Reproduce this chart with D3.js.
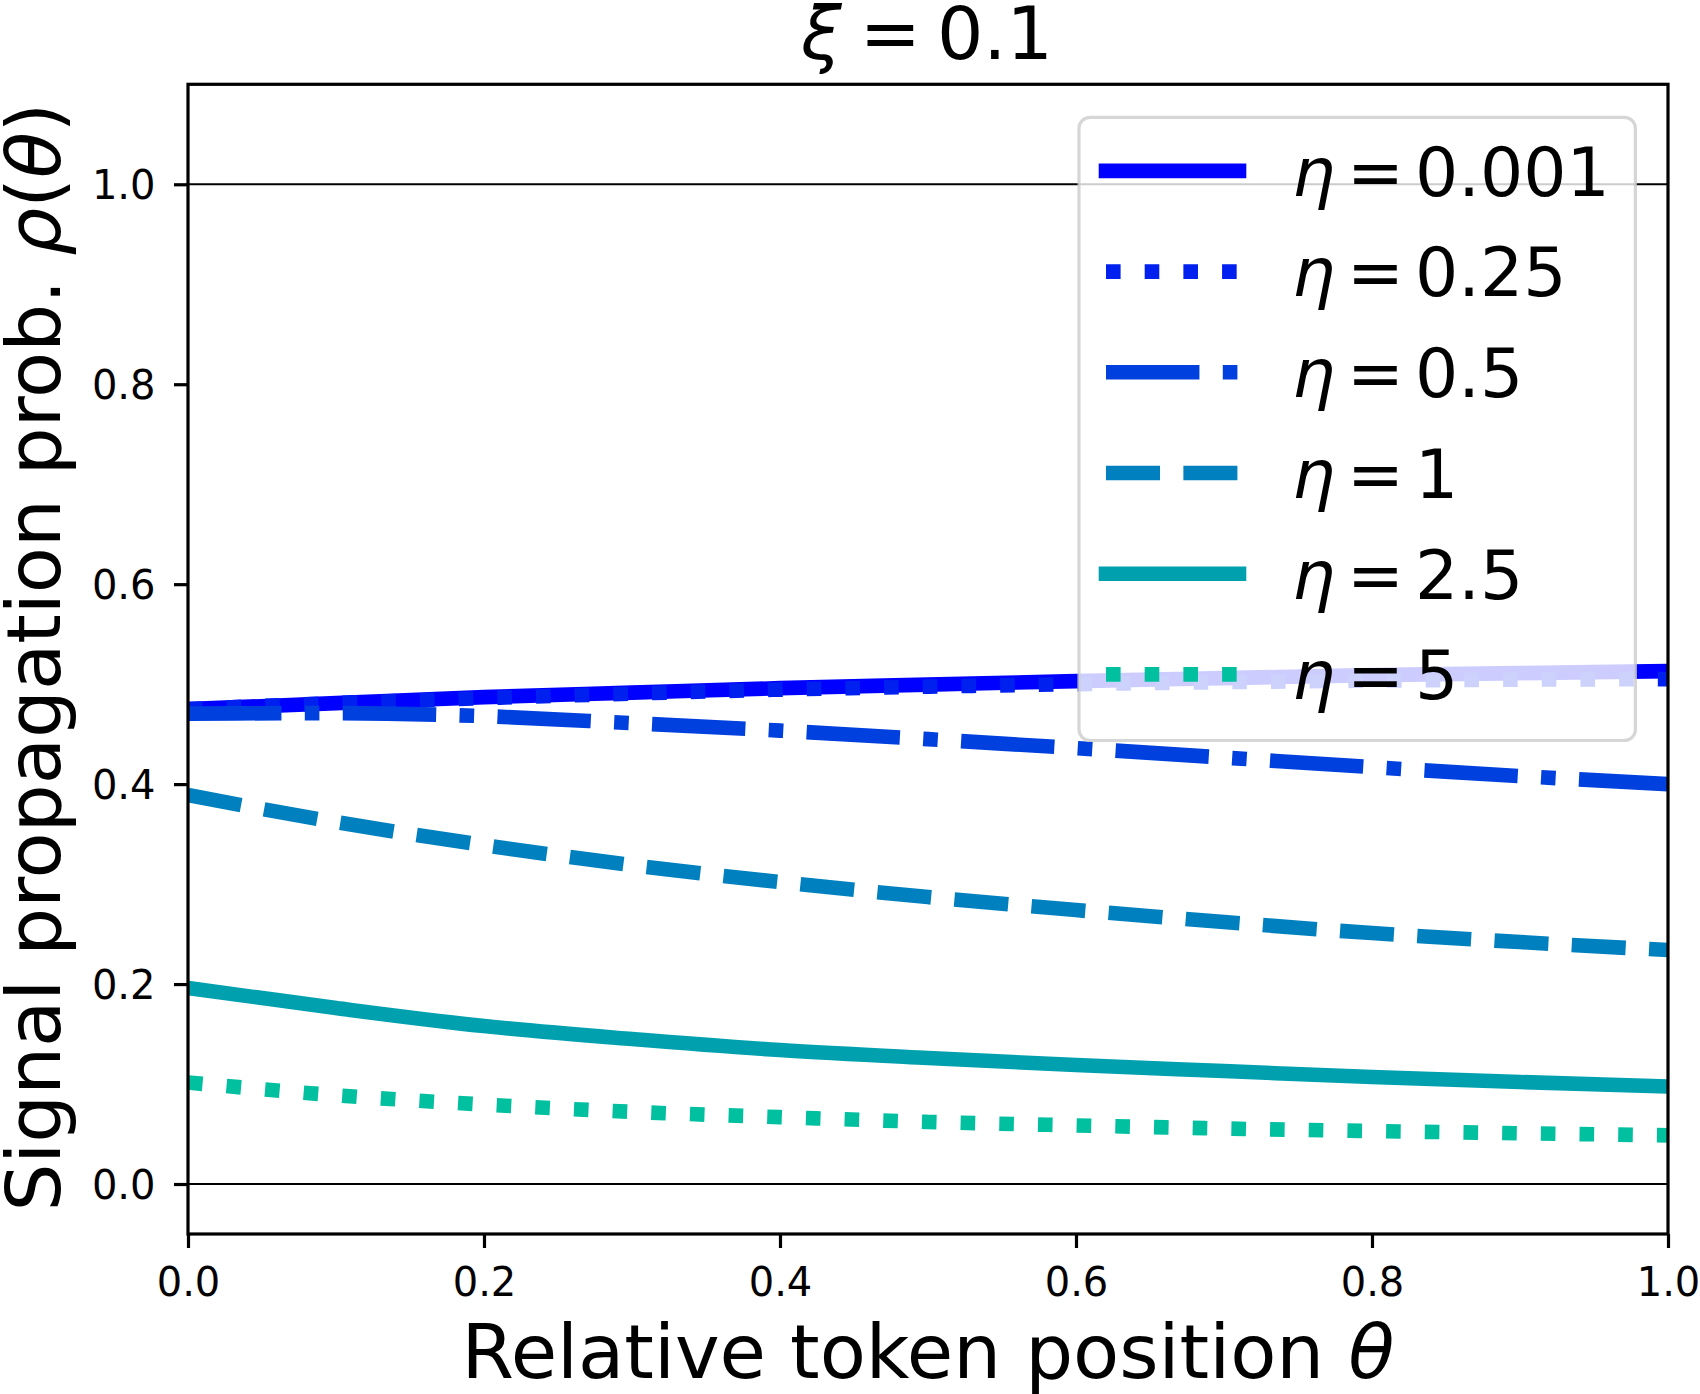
<!DOCTYPE html>
<html>
<head>
<meta charset="utf-8">
<script src="https://cdn.jsdelivr.net/npm/d3@7"></script>
<style>
  body { margin: 0; background: #fff; }
  svg { display: block; font-family: 'DejaVu Sans', sans-serif; }
</style>
</head>
<body>
<svg id="chart" width="1700" height="1394"></svg>
<script>
// Relative token position
const theta = [0, 0.1, 0.2, 0.3, 0.4, 0.5, 0.6, 0.7, 0.8, 0.9, 1.0];

// Signal propagation prob. per eta
const eta0001 = [0.475, 0.481, 0.487, 0.4915, 0.496, 0.4995, 0.503, 0.506, 0.509, 0.511, 0.513];
const eta025 = [0.475, 0.481, 0.486, 0.4905, 0.4945, 0.4975, 0.500, 0.502, 0.5035, 0.5045, 0.505];
const eta05 = [0.4705, 0.471, 0.468, 0.461, 0.4535, 0.445, 0.436, 0.4265, 0.417, 0.408, 0.400];
const eta1 = [0.389, 0.362, 0.339, 0.319, 0.302, 0.287, 0.274, 0.262, 0.251, 0.242, 0.234];
const eta25 = [0.196, 0.176, 0.158, 0.145, 0.134, 0.126, 0.119, 0.113, 0.107, 0.102, 0.0975];
const eta5 = [0.1015, 0.0888, 0.0795, 0.0722, 0.0669, 0.0621, 0.0586, 0.0555, 0.053, 0.0508, 0.0487];

const seriesLabels = ['0.001', '0.25', '0.5', '1', '2.5', '5'];
const seriesValues = [eta0001, eta025, eta05, eta1, eta25, eta5];
const seriesColors = ['#0000ff', '#0020ef', '#0040df', '#0080bf', '#00a0af', '#00c0a0'];
const seriesStyles = ['solid', 'dotted', 'dashdot', 'dashed', 'solid', 'dotted'];

const xTicks = [0, 0.2, 0.4, 0.6, 0.8, 1.0];
const yTicks = [0, 0.2, 0.4, 0.6, 0.8, 1.0];
const hLines = [0, 1];

// layout
const plot = { left: 188, right: 1668, top: 84.3, bottom: 1234 };
const lw = 14.6;
const dashPatterns = {
  solid: null,
  dotted: [1, 1.65],
  dashed: [3.7, 1.6],
  dashdot: [6.4, 1.6, 1, 1.6]
};
const dashArray = style => {
  const p = dashPatterns[style];
  return p ? p.map(v => (v * lw).toFixed(2)).join(' ') : null;
};

const svg = d3.select('#chart');

const x = d3.scaleLinear().domain([0, 1]).range([plot.left, plot.right]);
const y = d3.scaleLinear().domain([-0.05, 1.1]).range([plot.bottom, plot.top]);

svg.append('defs').append('clipPath')
  .attr('id', 'plot-clip')
  .append('rect')
  .attr('x', plot.left)
  .attr('y', plot.top)
  .attr('width', plot.right - plot.left)
  .attr('height', plot.bottom - plot.top);

// reference lines at 0 and 1
svg.append('g')
  .selectAll('line')
  .data(hLines)
  .enter()
  .append('line')
  .attr('x1', plot.left)
  .attr('x2', plot.right)
  .attr('y1', d => y(d))
  .attr('y2', d => y(d))
  .attr('stroke', '#000')
  .attr('stroke-width', 2);

// curves
const line = d3.line()
  .x((d, i) => x(theta[i]))
  .y(d => y(d))
  .curve(d3.curveMonotoneX);

svg.append('g')
  .attr('clip-path', 'url(#plot-clip)')
  .selectAll('path')
  .data(seriesValues)
  .enter()
  .append('path')
  .attr('d', d => line(d))
  .attr('fill', 'none')
  .attr('stroke', (d, i) => seriesColors[i])
  .attr('stroke-width', lw)
  .attr('stroke-linecap', (d, i) => seriesStyles[i] === 'solid' ? 'square' : 'butt')
  .attr('stroke-linejoin', 'round')
  .attr('stroke-dasharray', (d, i) => dashArray(seriesStyles[i]));

// axes
const fmt = d3.format('.1f');

const xAxis = svg.append('g')
  .attr('transform', `translate(0,${plot.bottom})`)
  .call(d3.axisBottom(x).tickValues(xTicks).tickFormat(fmt).tickSize(14).tickSizeOuter(0).tickPadding(19.6));

const yAxis = svg.append('g')
  .attr('transform', `translate(${plot.left},0)`)
  .call(d3.axisLeft(y).tickValues(yTicks).tickFormat(fmt).tickSize(14).tickSizeOuter(0).tickPadding(18.5));

[xAxis, yAxis].forEach(g => {
  g.select('.domain').remove();
  g.selectAll('.tick line').attr('stroke', '#000').attr('stroke-width', 3.2);
  g.selectAll('.tick text')
    .attr('fill', '#000')
    .style('font-family', "'DejaVu Sans', sans-serif")
    .style('font-size', '40px');
});
yAxis.selectAll('.tick text').attr('dy', '0.36em');

// frame
svg.append('rect')
  .attr('x', plot.left)
  .attr('y', plot.top)
  .attr('width', plot.right - plot.left)
  .attr('height', plot.bottom - plot.top)
  .attr('fill', 'none')
  .attr('stroke', '#000')
  .attr('stroke-width', 3.2);

// title
const title = svg.append('text')
  .attr('x', (plot.left + plot.right) / 2 - 1)
  .attr('y', 59.3)
  .attr('text-anchor', 'middle')
  .style('font-size', '73px');
title.append('tspan').style('font-style', 'italic').text('ξ');
title.append('tspan').attr('dx', 18).text('=');
title.append('tspan').attr('dx', 16).text('0.1');

// axis labels
const xLabel = svg.append('text')
  .attr('x', (plot.left + plot.right) / 2)
  .attr('y', 1378)
  .attr('text-anchor', 'middle')
  .style('font-size', '75.5px');
xLabel.append('tspan').text('Relative token position ');
xLabel.append('tspan').style('font-style', 'italic').text('θ');

const yLabel = svg.append('text')
  .attr('transform', `translate(60,${(plot.top + plot.bottom) / 2 - 2}) rotate(-90)`)
  .attr('text-anchor', 'middle')
  .style('font-size', '75.5px');
yLabel.append('tspan').text('Signal propagation prob. ');
yLabel.append('tspan').style('font-style', 'italic').text('ρ');
yLabel.append('tspan').text('(');
yLabel.append('tspan').style('font-style', 'italic').text('θ');
yLabel.append('tspan').text(')');

// legend
const legendBox = { x: 1079, y: 117.4, w: 556.4, h: 623.1 };
const legendRow0 = 170.9;
const legendStep = 100.7;
const handle = { x1: 1106, x2: 1239 };

const legend = svg.append('g').attr('class', 'legend');

legend.append('rect')
  .attr('x', legendBox.x)
  .attr('y', legendBox.y)
  .attr('width', legendBox.w)
  .attr('height', legendBox.h)
  .attr('rx', 11)
  .attr('fill', '#fff')
  .attr('fill-opacity', 0.8)
  .attr('stroke', '#cccccc')
  .attr('stroke-opacity', 0.8)
  .attr('stroke-width', 3.2);

const items = legend.selectAll('.legend-item')
  .data(seriesLabels)
  .enter()
  .append('g')
  .attr('class', 'legend-item')
  .attr('transform', (d, i) => `translate(0,${legendRow0 + i * legendStep})`);

items.append('line')
  .attr('x1', handle.x1)
  .attr('x2', handle.x2)
  .attr('stroke', (d, i) => seriesColors[i])
  .attr('stroke-width', lw)
  .attr('stroke-linecap', (d, i) => seriesStyles[i] === 'solid' ? 'square' : 'butt')
  .attr('stroke-dasharray', (d, i) => dashArray(seriesStyles[i]));

const labels = items.append('text')
  .attr('x', 1292)
  .attr('y', 24.8)
  .style('font-size', '68px');
labels.append('tspan').style('font-style', 'italic').text('η');
labels.append('tspan').attr('dx', 12).text('=');
labels.append('tspan').attr('dx', 11).text(d => d);
</script>
</body>
</html>
